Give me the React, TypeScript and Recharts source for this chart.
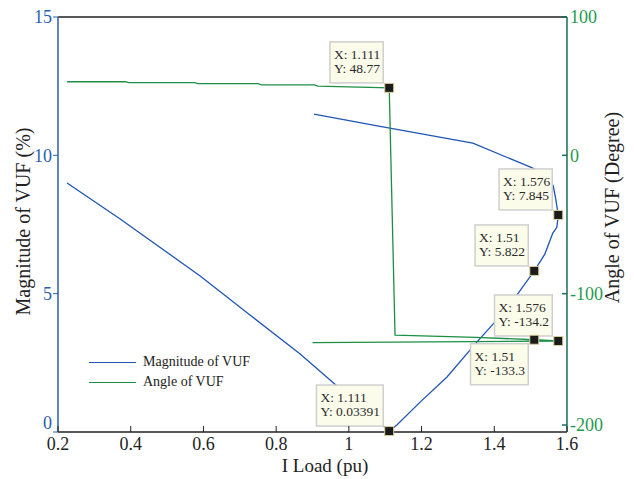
import {
  ComposedChart,
  Line,
  XAxis,
  YAxis,
  ReferenceDot,
  ReferenceLine,
  Legend,
  Label,
} from 'recharts'

const FONT = '"Liberation Serif", "Times New Roman", serif'
const BLUE = '#1f56b4'
const GREEN = '#1c8e45'
const BLUE_AXIS = '#2a5fb0'
const GREEN_AXIS = '#1a6e5a'
const GREEN_TEXT = '#1f9a4e'
const INK = '#222'

const xTicks = [0.2, 0.4, 0.6, 0.8, 1, 1.2, 1.4, 1.6]
const magTicks = [0, 5, 10, 15]
const angleTicks = [-200, -100, 0, 100]
const seriesNames = ['Magnitude of VUF', 'Angle of VUF']

// magnitude of VUF (%) — nose curve, upper branch first
const magX = [0.904, 1.086, 1.341, 1.498, 1.545, 1.562, 1.568, 1.576, 1.572, 1.561, 1.539, 1.51, 1.462, 1.407, 1.352, 1.27, 1.196, 1.132, 1.111, 1.003, 0.866, 0.728, 0.591, 0.371, 0.225]
const magY = [11.49, 11.05, 10.44, 9.58, 9.3, 8.9, 8.5, 7.845, 7.4, 7.19, 6.43, 5.822, 4.95, 4.05, 3.25, 1.99, 1.08, 0.25, 0.034, 1.26, 2.82, 4.23, 5.64, 7.7, 9.0]

// angle of VUF (degree)
const angX = [0.9, 1.576, 1.51, 1.35, 1.127, 1.111, 0.915, 0.905, 0.76, 0.75, 0.585, 0.575, 0.395, 0.385, 0.225]
const angY = [-135.4, -134.2, -133.3, -131.6, -129.9, 48.77, 50.1, 50.9, 51.0, 51.8, 51.8, 52.5, 52.5, 53.2, 53.2]

// data tips
const tipX = [1.111, 1.576, 1.51, 1.576, 1.51, 1.111]
const tipY = [48.77, 7.845, 5.822, -134.2, -133.3, 0.03391]
const tipAxis = ['angle', 'mag', 'mag', 'angle', 'angle', 'mag']

const magData = magX.map((x, i) => ({ x, y: magY[i] }))
const angData = angX.map((x, i) => ({ x, y: angY[i] }))

const charW: Record<string, number> = { X: 0.722, Y: 0.722, ':': 0.278, ' ': 0.25, '.': 0.25, '-': 0.333 }
const textW = (s: string, fs: number) =>
  s.split('').reduce((a, c) => a + (charW[c] ?? 0.5), 0) * fs

function DataTip({ cx, cy, x, y, below }: { cx: number; cy: number; x: number; y: number; below: boolean }) {
  const l1 = `X: ${x}`
  const l2 = `Y: ${y}`
  const w = Math.max(textW(l1, 13.5), textW(l2, 13.5)) + 6
  const h = 41
  const left = cx - 6 - w
  const top = below ? cy + 4 : cy - 5 - h
  return (
    <g>
      <rect x={left} y={top} width={w} height={h} fill="#fcfcea" stroke="#cfcfcf" strokeWidth={1.5} />
      <text x={left + 4} y={top + 17} fontFamily={FONT} fontSize={13.5} fill="#2a2a2a">{l1}</text>
      <text x={left + 4} y={top + 31} fontFamily={FONT} fontSize={13.5} fill="#2a2a2a">{l2}</text>
      <rect x={cx - 4.5} y={cy - 4.5} width={9} height={9} fill="#1b1b1b" stroke="#d9cf9c" strokeWidth={1} />
    </g>
  )
}

function XTick({ x, y, payload }: any) {
  return (
    <g>
      <line x1={x} x2={x} y1={y - 5} y2={y - 11} stroke={INK} />
      <text x={x} y={y} dy="0.71em" textAnchor="middle" fontFamily={FONT} fontSize={18} fill={INK}>
        {String(Number(payload.value.toFixed(1)))}
      </text>
    </g>
  )
}

function LeftTick({ x, y, payload }: any) {
  // bottom label sits a little higher, clear of the x tick labels
  const ty = payload.value === 0 ? y - 9 : y
  return (
    <text x={x} y={ty} dy="0.355em" textAnchor="end" fontFamily={FONT} fontSize={18} fill={BLUE_AXIS}>
      {payload.value}
    </text>
  )
}

function RightTick({ x, y, payload }: any) {
  const ty = payload.value === -200 ? y - 7 : y
  return (
    <g>
      <line x1={x - 3} x2={x - 8} y1={ty} y2={ty} stroke={GREEN_AXIS} strokeWidth={1.5} />
      <text x={x} y={ty} dy="0.355em" textAnchor="start" fontFamily={FONT} fontSize={18} fill={GREEN_TEXT}>
        {payload.value}
      </text>
    </g>
  )
}

function renderLegend(props: any) {
  const items = [...props.payload].sort(
    (a: any, b: any) => seriesNames.indexOf(a.value) - seriesNames.indexOf(b.value),
  )
  return (
    <div style={{ fontFamily: FONT, fontSize: 14, color: INK }}>
      {items.map((e: any) => (
        <div key={e.value} style={{ display: 'flex', alignItems: 'center', height: 20 }}>
          <span style={{ width: 47, height: 0, borderTop: `1.5px solid ${e.color}`, marginRight: 7 }} />
          <span>{e.value}</span>
        </div>
      ))}
    </div>
  )
}

export default function App() {
  return (
    <div style={{ position: 'absolute', left: 0, top: 0, background: '#fff' }}>
      <ComposedChart width={634} height={479} margin={{ top: 17, right: 0, bottom: 0, left: 0 }}>
        <XAxis
          dataKey="x"
          type="number"
          domain={[0.2, 1.6]}
          ticks={xTicks}
          height={47}
          tickSize={0}
          tickMargin={5}
          tick={<XTick />}
          axisLine={{ stroke: INK, strokeWidth: 1.3 }}
          interval={0}
        >
          <Label
            content={(p: any) => (
              <text x={325} y={p.viewBox.y + 40} textAnchor="middle" fontFamily={FONT} fontSize={19} fill={INK}>
                I Load (pu)
              </text>
            )}
          />
        </XAxis>
        <YAxis
          yAxisId="mag"
          dataKey="y"
          domain={[0, 15]}
          ticks={magTicks}
          width={58}
          tickSize={5}
          tickMargin={1}
          tick={<LeftTick />}
          tickLine={{ stroke: BLUE_AXIS }}
          axisLine={{ stroke: BLUE_AXIS, strokeWidth: 1.5 }}
          interval={0}
        >
          <Label
            content={(p: any) => {
              const cx = p.viewBox.x + 30
              const cy = p.viewBox.y + p.viewBox.height / 2 - 3
              return (
                <text x={cx} y={cy} transform={`rotate(-90, ${cx}, ${cy})`} textAnchor="middle" fontFamily={FONT} fontSize={20} fill={INK}>
                  Magnitude of VUF (%)
                </text>
              )
            }}
          />
        </YAxis>
        <YAxis
          yAxisId="angle"
          orientation="right"
          dataKey="y"
          domain={[-200, 100]}
          ticks={angleTicks}
          width={67}
          tickSize={0}
          tickMargin={3}
          tick={<RightTick />}
          axisLine={{ stroke: GREEN_AXIS, strokeWidth: 1.5 }}
          interval={0}
        >
          <Label
            content={(p: any) => {
              const cx = p.viewBox.x + 52
              const cy = p.viewBox.y + p.viewBox.height / 2 - 17
              return (
                <text x={cx} y={cy} transform={`rotate(-90, ${cx}, ${cy})`} textAnchor="middle" fontFamily={FONT} fontSize={20} fill={INK}>
                  Angle of VUF (Degree)
                </text>
              )
            }}
          />
        </YAxis>
        <ReferenceLine y={15} yAxisId="mag" stroke={INK} strokeWidth={1.3} />
        <Legend
          layout="vertical"
          align="center"
          verticalAlign="middle"
          content={renderLegend}
          wrapperStyle={{ left: 89, top: 352, width: 200 }}
        />
        <Line
          yAxisId="mag"
          data={magData}
          dataKey="y"
          name="Magnitude of VUF"
          type="linear"
          stroke={BLUE}
          strokeWidth={1.3}
          dot={false}
          activeDot={false}
          isAnimationActive={false}
        />
        <Line
          yAxisId="angle"
          data={angData}
          dataKey="y"
          name="Angle of VUF"
          type="linear"
          stroke={GREEN}
          strokeWidth={1.3}
          dot={false}
          activeDot={false}
          isAnimationActive={false}
        />
        {tipX.map((x, i) => (
          <ReferenceDot
            key={i}
            x={x}
            y={tipY[i]}
            yAxisId={tipAxis[i]}
            r={4}
            ifOverflow="visible"
            shape={(p: any) => <DataTip cx={p.cx} cy={p.cy} x={x} y={tipY[i]} below={i === 4} />}
          />
        ))}
      </ComposedChart>
    </div>
  )
}
